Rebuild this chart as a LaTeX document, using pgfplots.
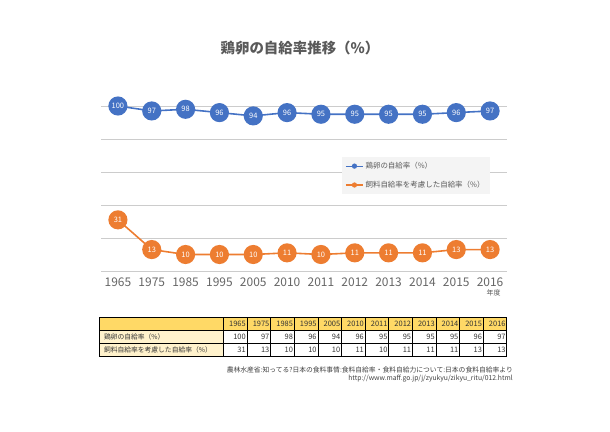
\documentclass[border=0pt]{standalone}
\usepackage{pgfplots}
\pgfplotsset{compat=1.18}
\usepackage{pgfplotstable}
\usepackage{fontspec}
\setmainfont{Noto Sans CJK JP}

\definecolor{eggblue}{HTML}{4472C4}
\definecolor{feedorange}{HTML}{ED7D31}
\definecolor{txtgray}{HTML}{595959}
\definecolor{ticklbl}{HTML}{666666}
\definecolor{lightgrid}{HTML}{CCCCCC}
\definecolor{darkgrid}{HTML}{7F7F7F}
\definecolor{legendbg}{HTML}{F4F4F4}
\definecolor{hdrgold}{HTML}{FFD966}
\definecolor{lblcream}{HTML}{FFF2CC}

% self-sufficiency rates (%), by fiscal year
\pgfplotstableread{
idx year egg feed
0  1965 100 31
1  1975 97  13
2  1985 98  10
3  1995 96  10
4  2005 94  10
5  2010 96  11
6  2011 95  10
7  2012 95  11
8  2013 95  11
9  2014 95  11
10 2015 96  13
11 2016 97  13
}\ratetable

\newcommand{\fs}[1]{\fontsize{#1}{#1}\selectfont}

\begin{document}
\begin{tikzpicture}[x=1bp,y=1bp]
  \useasboundingbox (0,0) rectangle (610,431);

  \node[font=\fs{14.5}\bfseries, text=txtgray] at (300,383) {鶏卵の自給率推移（\%）};

  \begin{axis}[at={(101bp,160bp)}, anchor=south west
    ,scale only axis
    ,width=406bp
    ,height=165bp
    ,xmin=-0.5, xmax=11.5
    ,ymin=0, ymax=100
    ,clip=false
    ,axis line style={draw=none}
    ,major tick length=0pt
    ,/pgf/number format/assume math mode=true
    ,xtick={0,...,11}
    ,xticklabels from table={\ratetable}{year}
    ,xticklabel style={font=\fs{12}, text=ticklbl, yshift=-3bp}
    ,ytick={60,80,100}
    ,yticklabels={}
    ,extra y ticks={0,20,40}
    ,extra y tick labels={}
    ,extra y tick style={grid style={draw=darkgrid, line width=0.8pt}}
    ,ymajorgrids
    ,major grid style={draw=lightgrid, line width=0.8pt}
    ,legend style={at={(0.594,0.691)}, anchor=north west, fill=legendbg,
       draw=none, font=\fs{7.5}, text=txtgray, row sep=7bp, inner sep=3bp}
    ,legend cell align=left
    ,legend image code/.code={%
       \draw[mark repeat=2,mark phase=2,#1,mark size=2pt,line width=1.2pt]
         plot coordinates {(0bp,0bp) (8.5bp,0bp) (17bp,0bp)};}
  ]
    \addplot[eggblue, line width=1.6pt, mark=*, mark size=8.8pt,
      mark options={fill=eggblue, draw=eggblue},
      nodes near coords,
      every node near coord/.append style={anchor=center, text=white, font=\fs{7.5}}]
      table[x=idx, y=egg] {\ratetable};
    \addlegendentry{鶏卵の自給率（\%）}
    \addplot[feedorange, line width=1.6pt, mark=*, mark size=8.8pt,
      mark options={fill=feedorange, draw=feedorange},
      nodes near coords,
      every node near coord/.append style={anchor=center, text=white, font=\fs{7.5}}]
      table[x=idx, y=feed] {\ratetable};
    \addlegendentry{飼料自給率を考慮した自給率（\%）}
  \end{axis}

  \node[font=\fs{7}, text=txtgray, anchor=east] at (504,138) {年度};

  % data table below the chart
  \fill[hdrgold] (99,113.7) rectangle (506.7,100.3);
  \fill[lblcream] (99,100.3) rectangle (223.3,75);
  \foreach \yy in {113.7,100.3,87.7,75}
    \draw[line width=0.5pt] (99,\yy) -- (506.7,\yy);
  \draw[line width=0.5pt] (99,113.7) -- (99,75);
  \foreach \k in {0,...,12}
    \draw[line width=0.5pt] ({223.3+\k*23.62},113.7) -- ({223.3+\k*23.62},75);
  \node[anchor=west, font=\fs{6.8}, text=black!80] at (100.5,94) {鶏卵の自給率（\%）};
  \node[anchor=west, font=\fs{6.8}, text=black!80] at (100.5,81.3) {飼料自給率を考慮した自給率（\%）};
  \foreach \yr/\eg/\fd [count=\k from 1] in {1965/100/31, 1975/97/13, 1985/98/10,
      1995/96/10, 2005/94/10, 2010/96/11, 2011/95/10, 2012/95/11,
      2013/95/11, 2014/95/11, 2015/96/13, 2016/97/13} {
    \node[anchor=east, font=\fs{7.5}, inner sep=0pt, text=black!80] at ({223.3+\k*23.62-1},107) {\yr};
    \node[anchor=east, font=\fs{7.5}, inner sep=0pt, text=black!80] at ({223.3+\k*23.62-1},94) {\eg};
    \node[anchor=east, font=\fs{7.5}, inner sep=0pt, text=black!80] at ({223.3+\k*23.62-1},81.3) {\fd};
  }

  \node[anchor=east, font=\fs{6.8}, text=black!75, inner sep=0pt] at (513,61)
    {農林水産省:知ってる?日本の食料事情:食料自給率・食料自給力について:日本の食料自給率より};
  \node[anchor=east, font=\fs{6.8}, text=black!75, inner sep=0pt] at (513,52)
    {http://www.maff.go.jp/j/zyukyu/zikyu\_ritu/012.html};
\end{tikzpicture}
\end{document}
